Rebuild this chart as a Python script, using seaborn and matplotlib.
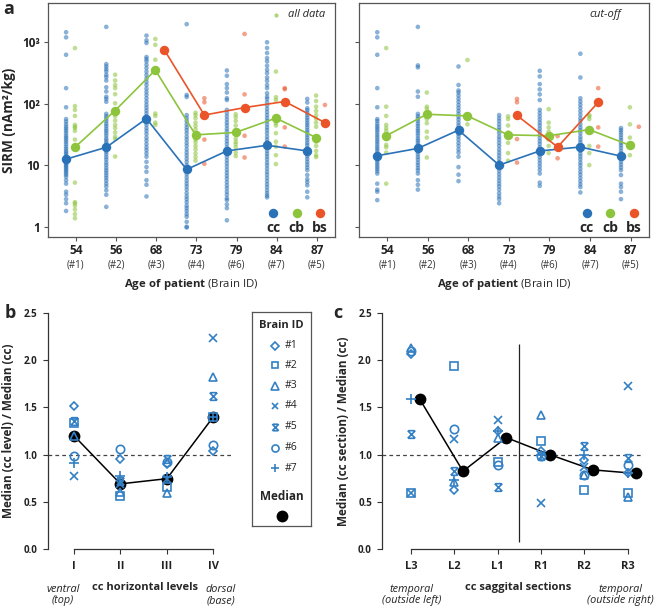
import numpy as np
import pandas as pd
import matplotlib
matplotlib.use("Agg")
import matplotlib.pyplot as plt
import seaborn as sns
from matplotlib.path import Path
from matplotlib.ticker import NullLocator
from matplotlib.transforms import blended_transform_factory

sns.set_style("white")
plt.rcParams["font.family"] = ["Open Sans", "DejaVu Sans"]
plt.rcParams["mathtext.fontset"] = "custom"
plt.rcParams["mathtext.rm"] = "Open Sans"
plt.rcParams["mathtext.bf"] = "Open Sans:bold"
plt.rcParams["mathtext.it"] = "Open Sans:italic"

# ---------------- data: panel a ----------------
ages = ["54", "56", "68", "73", "79", "84", "87"]
brain_ids = ["#1", "#2", "#3", "#4", "#6", "#7", "#5"]

# all data (SIRM, nAm2/kg), one list per brain
cc_all = [
    [1440, 1190, 620, 178, 87, 56, 51, 46, 42, 39, 36, 33, 30, 28, 26, 24, 22, 20, 18.5, 17, 16, 15, 14, 13, 12,
     11, 10.5, 10, 9.5, 9, 8.5, 8, 7.5, 7, 6.5, 5.7, 5.0, 3.7, 3.3, 2.8, 2.4, 1.8],
    [1760, 437, 400, 363, 333, 293, 269, 237, 184, 157, 129, 119, 107, 68, 62, 57, 52, 47, 43, 39, 36, 33, 30, 27,
     25, 23, 21, 19.5, 18, 16.5, 15, 13.5, 12.3, 11, 10, 9, 8.2, 7.5, 6.8, 6.2, 5.6, 5.0, 4.5, 3.9, 3.3, 2.1],
    [1270, 1065, 965, 570, 528, 484, 426, 377, 330, 290, 255, 225, 200, 175, 155, 138, 122, 108, 96, 86, 77, 69, 62,
     56, 50, 45, 40, 36, 32, 28, 25, 22, 19.5, 17.5, 15.5, 13.7, 11.3, 9.3, 7.8, 5.7, 4.8, 3.1],
    [1950, 138, 128, 65, 58, 52, 46, 41, 37, 33, 29, 26, 23, 20.5, 18, 16, 14.3, 12.7, 11.3, 10, 9, 8, 7.1, 6.3,
     5.6, 5.0, 4.5, 4.0, 3.5, 3.1, 2.8, 2.5, 2.2, 2.0, 1.8, 1.6, 1.45, 1.2, 1.0, 0.97],
    [345, 283, 207, 178, 151, 122, 114, 79, 70, 62, 55, 49, 44, 39, 35, 31, 27.5, 24.5, 22, 19.5, 17, 15, 13.5, 12,
     10.7, 9.5, 8.4, 7.5, 6.7, 6.0, 5.3, 4.7, 4.2, 3.7, 3.3, 2.9, 2.7, 2.3, 2.0, 1.27],
    [990, 800, 662, 548, 484, 411, 353, 312, 265, 234, 200, 178, 147, 129, 119, 105, 93, 82, 73, 65, 58, 52, 46, 41,
     37, 33, 29, 26, 23.5, 21, 19, 17, 15.3, 13.8, 12.4, 11, 9.9, 8.8, 7.8, 7, 6.2, 5.5, 4.9, 4.4, 3.9, 3.5, 3.2, 3.0],
    [119, 104, 84, 78, 71, 65, 59, 54, 49, 45, 41, 37, 34, 31, 28, 25.5, 23, 21, 19, 17, 15.5, 14, 12.6, 11.3, 10.2,
     9.2, 8.3, 6.9, 5.9, 5.3, 4.7, 3.7, 3.0],
]
cb_all = [
    [797, 91, 79, 63, 45, 42, 40, 36, 26, 5.2, 2.5, 2.4, 2.2, 1.9, 1.6, 1.37],
    [294, 237, 200, 178, 142, 101, 62, 53, 45, 40, 34, 29, 26.5, 13.8],
    [1120, 900, 515, 69, 63, 49, 45],
    [71, 65, 58, 49, 43, 38, 26, 23.5, 20.5, 18, 15.5, 13.5, 11.8],
    [67, 60, 52, 44, 37, 27, 24, 22, 19.5, 16, 14],
    [331, 127, 114, 48, 44, 33, 24, 20, 14.5, 10.4],
    [135, 110, 89, 76, 65, 57, 49, 42, 24, 20.5, 17, 14.5, 13.5],
]
bs_all = [[], [], [], [122, 105, 26, 10.5], [1350, 141, 30, 13.3], [178, 171, 41, 20], [95]]

cc_med_all = [12.5, 19.5, 57, 8.5, 17, 21, 17]
cb_med_all = [19.5, 77, 350, 31, 34, 58, 28]
bs_med_all = [np.nan, np.nan, 750, 65, 86, 108, 49]

# cut-off data
cc_cut = [
    [1440, 1190, 620, 178, 87, 56, 52, 47, 43, 40, 37, 34, 31, 28.5, 26, 24, 22, 20, 18.5, 17, 15.5, 14.2, 13, 12,
     11, 10.2, 9.4, 8.7, 8, 7.3, 5.0, 4.0, 3.7, 2.7],
    [1760, 416, 387, 157, 129, 68, 62, 57, 52, 47, 43, 39, 36, 33, 30, 27, 25, 23, 21, 19.5, 18, 16.5, 15, 13.5,
     12.3, 11, 10, 9, 8.2, 7.3, 5.7, 4.8, 4.0],
    [400, 200, 163, 151, 135, 120, 107, 95, 85, 76, 68, 61, 55, 49, 44, 40, 36, 32, 29, 26, 23, 20.5, 18, 16, 13.7,
     9.3, 7.0, 5.5],
    [65, 58, 52, 46, 41, 37, 33, 29, 26, 23, 20.5, 18, 16, 14.3, 12.7, 11.3, 10, 9, 8, 7.1, 6.3, 5.6, 5.0, 4.5, 4.0,
     3.5, 3.1, 2.8, 2.4],
    [340, 276, 207, 170, 141, 114, 79, 70, 62, 55, 49, 44, 39, 35, 31, 27.5, 24.5, 22, 19.5, 17, 15, 13.5, 12, 10.7,
     9.5, 8.4, 7.3, 5.2, 4.6],
    [645, 265, 122, 108, 96, 85, 75, 66, 58, 52, 46, 41, 37, 33, 29, 26, 23.5, 21, 19, 17, 15.3, 13.8, 12.4, 11, 9.9,
     8.8, 7.8, 7, 6.2, 5.5, 4.9, 4.4, 3.6],
    [40, 37, 34, 31, 28, 25.5, 23, 21, 19, 17, 15.5, 14, 12.6, 11.3, 10.2, 9.2, 8.3, 6.9, 5.0, 4.4, 3.7, 2.8],
]
cb_cut = [
    [797, 89, 63, 45, 40, 36, 26.5, 21.3, 19.5, 16, 5.0],
    [151, 89, 82, 56, 48, 35, 28, 13.3],
    [510, 46],
    [62, 56, 44, 34, 23, 15.7, 11.8],
    [81, 49, 41, 35, 26, 20.5, 15.7],
    [65, 62, 56, 20.5, 15.7, 10],
    [87, 46, 28, 14.5],
]
bs_cut = [[], [], [], [119, 105, 26.5, 11], [29.6, 12.9], [178, 41, 20], [42]]

cc_med_cut = [14.2, 18.7, 37, 10, 17, 19.7, 14]
cb_med_cut = [30, 67, 63, 31, 30, 37.7, 21]
bs_med_cut = [np.nan, np.nan, np.nan, 64, 19.7, 105, np.nan]

# ---------------- data: panels b and c ----------------
levels = ["I", "II", "III", "IV"]
sections = ["L3", "L2", "L1", "R1", "R2", "R3"]
brains = ["#1", "#2", "#3", "#4", "#5", "#6", "#7"]

level_ratio = {
    "#1": [1.51, 0.95, 0.90, 1.035],
    "#2": [1.34, 0.56, 0.66, 1.40],
    "#3": [1.20, 0.60, 0.59, 1.82],
    "#4": [0.77, 0.69, 0.745, 2.24],
    "#5": [1.36, 0.72, 0.95, 1.62],
    "#6": [0.98, 1.056, 0.92, 1.10],
    "#7": [0.91, 0.77, 0.76, 1.40],
}
level_median = [1.20, 0.69, 0.745, 1.40]

section_ratio = {
    "#1": [2.07, 0.627, 1.25, 1.04, 0.94, 0.80],
    "#2": [0.595, 1.94, 0.92, 1.14, 0.62, 0.595],
    "#3": [2.13, 0.71, 1.18, 1.415, 0.78, 0.55],
    "#4": [0.59, 1.165, 1.366, 0.49, 0.87, 1.73],
    "#5": [1.215, 0.83, 0.655, 0.99, 1.09, 0.965],
    "#6": [2.10, 1.27, 0.89, 0.98, 0.78, 0.895],
    "#7": [1.59, 0.73, 1.25, 1.0, 1.0, 0.80],
}
section_median = [1.59, 0.824, 1.18, 1.0, 0.838, 0.80]

# ---------------- styles ----------------
colors = {"cc": "#2a72b8", "cb": "#8cc43c", "bs": "#ea5428"}
offsets = {"cc": -0.24, "cb": -0.02, "bs": 0.2}
marker_blue = "#3480c4"
spine_col = "#555555"

hourglass = Path(
    [(-1, -1), (1, 1), (-1, 1), (1, -1), (-0.8, 1), (0.8, 1), (-0.8, -1), (0.8, -1)],
    [Path.MOVETO, Path.LINETO] * 4,
)
brain_markers = {"#1": "D", "#2": "s", "#3": "^", "#4": "x", "#5": hourglass, "#6": "o", "#7": "+"}
marker_sizes = {"#1": 4.5, "#2": 5.5, "#3": 6, "#4": 5.5, "#5": 5.5, "#6": 6, "#7": 6.5}


def long_table(cc, cb, bs):
    rows = []
    for tissue, series in (("cc", cc), ("cb", cb), ("bs", bs)):
        for i, vals in enumerate(series):
            for v in vals:
                rows.append((tissue, i + offsets[tissue], v))
    return pd.DataFrame(rows, columns=["tissue", "x", "value"])


def median_table(cc, cb, bs):
    rows = []
    for tissue, series in (("cc", cc), ("cb", cb), ("bs", bs)):
        for i, v in enumerate(series):
            rows.append((tissue, i + offsets[tissue], v))
    return pd.DataFrame(rows, columns=["tissue", "x", "value"]).dropna()


def draw_sirm(ax, pts, meds, tag, first):
    sns.scatterplot(data=pts, x="x", y="value", hue="tissue", palette=colors, s=11, alpha=0.55,
                    linewidth=0, legend=False, ax=ax)
    sns.lineplot(data=meds, x="x", y="value", hue="tissue", palette=colors, marker="o", markersize=6.8,
                 markeredgewidth=0, linewidth=1.2, errorbar=None, legend=False, ax=ax)
    ax.set_yscale("log")
    ax.set_ylim(0.68, 4300)
    ax.set_xlim(-0.69, 6.45)
    ax.set_yticks([1, 10, 100, 1000])
    ax.yaxis.set_minor_locator(NullLocator())
    ax.set_xticks(range(len(ages)))
    ax.set_xticklabels(ages, fontweight="bold", fontsize=8.5, color="#222222")
    if first:
        ax.set_yticklabels(["1", "10", "10²", "10³"], fontweight="bold", fontsize=8.5, color="#222222")
        ax.set_ylabel("SIRM (nAm²/kg)", fontweight="bold", fontsize=9.8, labelpad=4)
    else:
        ax.set_yticklabels([])
        ax.set_ylabel("")
    ax.set_xlabel("")
    ax.tick_params(axis="both", which="major", direction="out", length=3, width=0.8, color=spine_col,
                   left=True, bottom=True, pad=3)
    ax.tick_params(axis="x", pad=2)
    for s in ax.spines.values():
        s.set_color(spine_col)
        s.set_linewidth(0.9)
    trans = blended_transform_factory(ax.transData, ax.transAxes)
    for i, b in enumerate(brain_ids):
        ax.text(i, -0.118, f"({b})", transform=trans, ha="center", va="center", fontsize=7, color="#333333")
    ax.text(0.5, -0.205, r"$\mathbf{Age\ of\ patient}$ (Brain ID)", transform=ax.transAxes,
            ha="center", va="center", fontsize=8.2)
    # legend glyphs
    xs = [0.785, 0.866, 0.947]
    for xx, t in zip(xs, ["cc", "cb", "bs"]):
        ax.plot([xx], [0.103], marker="o", ms=6.8, mew=0, color=colors[t], transform=ax.transAxes,
                clip_on=False)
        ax.text(xx, 0.04, t, transform=ax.transAxes, ha="center", va="center", fontsize=10,
                fontweight="bold")
    if first:
        ax.plot([0.793], [0.949], marker="o", ms=3, mew=0, color=colors["cb"], alpha=0.7,
                transform=ax.transAxes)
        ax.text(0.835, 0.949, tag, transform=ax.transAxes, ha="left", va="center", fontsize=8,
                style="italic")
    else:
        ax.text(0.848, 0.949, tag, transform=ax.transAxes, ha="center", va="center", fontsize=8,
                style="italic")


def draw_ratio(ax, labels, ratios, medians, med_shift, xmin, xmax, ylabel, xlabel, left_note, right_note,
               note_pos):
    xs = np.arange(len(labels))
    ax.axhline(1.0, ls=(0, (3, 2.5)), color="#444444", lw=0.9, zorder=1)
    sns.lineplot(x=xs + med_shift, y=medians, color="black", marker="o", markersize=8.5, markeredgewidth=0,
                 linewidth=1.1, ax=ax, zorder=2)
    for b in brains:
        ax.plot(xs, ratios[b], ls="none", marker=brain_markers[b], ms=marker_sizes[b], mfc="none",
                mec=marker_blue, mew=1.2, zorder=3)
    ax.set_xlim(xmin, xmax)
    ax.set_ylim(0, 2.5)
    ax.set_yticks([0, 0.5, 1.0, 1.5, 2.0, 2.5])
    ax.set_yticklabels(["0.0", "0.5", "1.0", "1.5", "2.0", "2.5"], fontweight="bold", fontsize=7,
                       color="#222222")
    ax.set_xticks(xs)
    ax.set_xticklabels(labels, fontweight="bold", fontsize=8, color="#222222")
    ax.set_ylabel(ylabel, fontweight="bold", fontsize=8.5, labelpad=6)
    for s in ["top", "right"]:
        ax.spines[s].set_visible(False)
    for s in ["left", "bottom"]:
        ax.spines[s].set_color("#333333")
        ax.spines[s].set_linewidth(0.9)
    ax.spines["bottom"].set_bounds(xs[0], xs[-1])
    ax.tick_params(axis="both", direction="out", length=3.5, width=0.8, color="#333333", left=True,
                   bottom=True, pad=4)
    ax.tick_params(axis="x", pad=5)
    ax.text(note_pos[1], -0.165, xlabel, transform=ax.transAxes, ha="center", va="center", fontsize=8,
            fontweight="bold")
    ax.text(note_pos[0], -0.195, left_note, transform=ax.transAxes, ha="center", va="center", fontsize=7.8,
            style="italic", linespacing=1.0, color="#222222")
    ax.text(note_pos[2], -0.195, right_note, transform=ax.transAxes, ha="center", va="center", fontsize=7.8,
            style="italic", linespacing=1.0, color="#222222")


fig = plt.figure(figsize=(6.6, 6.08), dpi=100)
W, H = 660.0, 608.0
ax_a1 = fig.add_axes([48 / W, 1 - 237 / H, 287 / W, 234 / H])
ax_a2 = fig.add_axes([359 / W, 1 - 237 / H, 290 / W, 234 / H])
ax_b = fig.add_axes([47.5 / W, 1 - 549 / H, 184.4 / W, 236 / H])
ax_c = fig.add_axes([382.3 / W, 1 - 549 / H, 259.3 / W, 236 / H])
ax_leg = fig.add_axes([252 / W, 1 - 526 / H, 59 / W, 214 / H])

draw_sirm(ax_a1, long_table(cc_all, cb_all, bs_all), median_table(cc_med_all, cb_med_all, bs_med_all),
          "all data", True)
draw_sirm(ax_a2, long_table(cc_cut, cb_cut, bs_cut), median_table(cc_med_cut, cb_med_cut, bs_med_cut),
          "cut-off", False)

draw_ratio(ax_b, levels, level_ratio, level_median, 0.0, -0.57, 3.4, "Median (cc level) / Median (cc)",
           "cc horizontal levels", "ventral\n(top)", "dorsal\n(base)", (0.084, 0.53, 0.94))
draw_ratio(ax_c, sections, section_ratio, section_median, 0.2, -0.66, 5.32,
           "Median (cc section) / Median (cc)", "cc saggital sections", "temporal\n(outside left)",
           "temporal\n(outside right)", (0.113, 0.524, 0.917))
ax_c.vlines(2.5, 0.07, 2.17, color="#222222", lw=0.9)

# brain ID legend box
ax_leg.set_xlim(0, 1)
ax_leg.set_ylim(0, 1)
ax_leg.set_xticks([])
ax_leg.set_yticks([])
for s in ax_leg.spines.values():
    s.set_color(spine_col)
    s.set_linewidth(0.9)
ax_leg.text(0.5, 0.935, "Brain ID", ha="center", va="center", fontsize=8, fontweight="bold")
leg_y = [0.8425, 0.752, 0.6556, 0.561, 0.463, 0.366, 0.271]
for b, yy in zip(brains, leg_y):
    ax_leg.plot([0.39], [yy], ls="none", marker=brain_markers[b], ms=marker_sizes[b] * 0.85, mfc="none",
                mec=marker_blue, mew=1.2)
    ax_leg.text(0.56, yy, b, ha="left", va="center", fontsize=7.5, color="#222222")
ax_leg.text(0.5, 0.137, "Median", ha="center", va="center", fontsize=8.5, fontweight="bold")
ax_leg.plot([0.5], [0.045], marker="o", ms=8.5, mew=0, color="black")

fig.text(9 / W, 1 - 9 / H, "a", fontsize=13, fontweight="bold", ha="center", va="center")
fig.text(10 / W, 1 - 313 / H, "b", fontsize=13, fontweight="bold", ha="center", va="center")
fig.text(338 / W, 1 - 313 / H, "c", fontsize=13, fontweight="bold", ha="center", va="center")

fig.savefig("out.png", dpi=100)
